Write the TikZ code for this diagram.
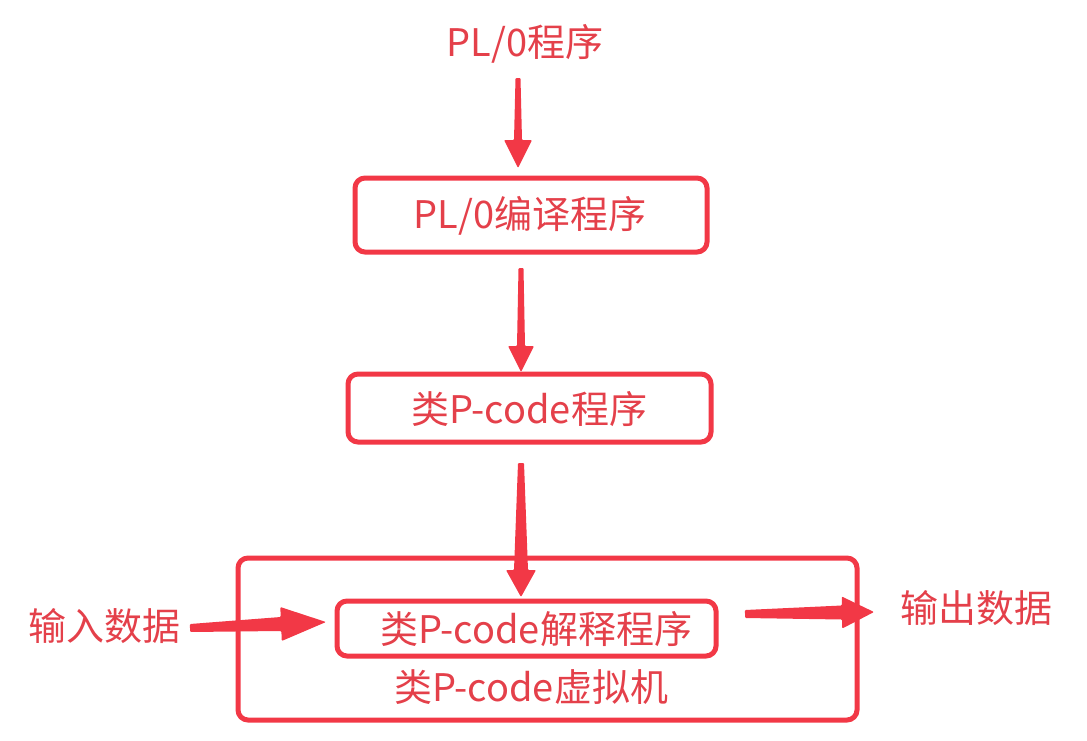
\documentclass[tikz,border=0pt]{standalone}
\usepackage{fontspec}
\setmainfont{Noto Sans CJK SC}
\usetikzlibrary{calc}
\definecolor{fgred}{RGB}{242,56,70}
\definecolor{txtred}{RGB}{228,64,74}
\tikzset{
  lbl/.style={text=txtred, font=\fontsize{38}{42}\selectfont, inner sep=0pt},
  box/.style={draw=fgred, line width=5pt, rounded corners=10pt},
}
\newcommand\tarrow[6]{%
  \coordinate (ta-n) at ($(#2)!#6!(#1)$);
  \fill[fgred, rounded corners=1pt] ($(#1)!#3!90:(#2)$) -- ($(ta-n)!#4!-90:(#1)$) -- ($(ta-n)!#5!-90:(#1)$) -- (#2) -- ($(ta-n)!#5!90:(#1)$) -- ($(ta-n)!#4!90:(#1)$) -- ($(#1)!#3!-90:(#2)$) -- cycle;
}
\begin{document}
\begin{tikzpicture}[x=1pt,y=-1pt]
\useasboundingbox (0,0) rectangle (1087,740);
% outer box
\draw[box] (238,558) rectangle (857,720);
\node[lbl] (vm) at (531,687) {类P-code虚拟机};
% boxes
\draw[box] (355,178) rectangle (707,252);
\node[lbl] (b1) at (530,216) {PL/0编译程序};
\draw[box] (348,374) rectangle (711,442);
\node[lbl] (b2) at (529,409) {类P-code程序};
\draw[box] (337,601) rectangle (716,656);
\node[lbl] (b3) at (536,629) {类P-code解释程序};
% free texts
\node[lbl] (src) at (525,44) {PL/0程序};
\node[lbl] (in) at (104,626) {输入数据};
\node[lbl] (out) at (976,608) {输出数据};
% arrow endpoints
\coordinate (a1s) at (518,78);
\coordinate (a1e) at (518,168);
\coordinate (a2s) at (521,268);
\coordinate (a2e) at (521,372);
\coordinate (a3s) at (521,463);
\coordinate (a3e) at (521,597);
\coordinate (a4s) at (190,628);
\coordinate (a4e) at (326,622);
\coordinate (a5s) at (745,614);
\coordinate (a5e) at (874,612);
\tarrow{a1s}{a1e}{2.5pt}{4pt}{14pt}{28pt}
\tarrow{a2s}{a2e}{2.5pt}{4pt}{13pt}{26pt}
\tarrow{a3s}{a3e}{3pt}{7pt}{15pt}{27pt}
\tarrow{a4s}{a4e}{4pt}{7pt}{17pt}{45pt}
\tarrow{a5s}{a5e}{4pt}{7pt}{16pt}{32pt}
\end{tikzpicture}
\end{document}
